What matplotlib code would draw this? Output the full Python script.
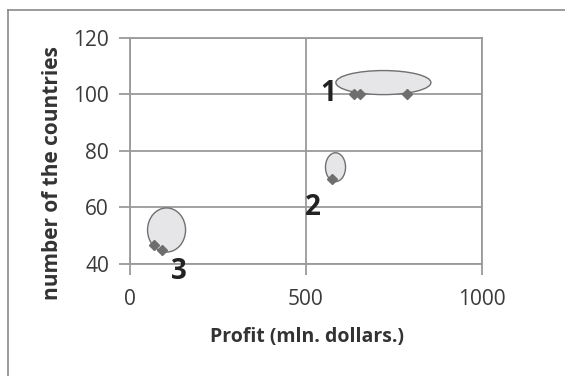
import matplotlib.pyplot as plt
from matplotlib.patches import Ellipse
from matplotlib.lines import Line2D

# profit (mln. dollars) and number of countries for each company
profit = [636, 653, 786, 573, 68, 90]
countries = [100, 100, 100, 70, 46.7, 44.8]

# cluster outlines: center x, center y, width, height
cluster_ids = ['1', '2', '3']
cl_x = [720, 584, 104]
cl_y = [104.1, 74.2, 52.0]
cl_w = [270, 57, 108]
cl_h = [8.5, 10.2, 15.6]
# label anchor points
lab_x = [563, 520, 139]
lab_y = [100.4, 60, 37.5]

plt.rcParams['font.family'] = ['Open Sans', 'DejaVu Sans']

fig = plt.figure(figsize=(5.65, 3.76), dpi=100)
ax = fig.add_axes([0.230, 0.298, 0.623, 0.602])

grid_c = '#9a9a9a'
ax.set_xlim(0, 1000)
ax.set_ylim(40, 120)
ax.set_xticks([0, 500, 1000])
ax.set_yticks([40, 60, 80, 100, 120])
ax.grid(True, color=grid_c, linewidth=1.3)
ax.set_axisbelow(True)
for s in ax.spines.values():
    s.set_color(grid_c)
    s.set_linewidth(1.3)
ax.tick_params(axis='both', colors=grid_c, width=1.3, length=8, labelcolor='#3a3a3a', labelsize=15)
ax.tick_params(axis='x', pad=10)
ax.tick_params(axis='y', pad=7)

for x, y, w, h in zip(cl_x, cl_y, cl_w, cl_h):
    ax.add_patch(Ellipse((x, y), w, h, facecolor='#e6e6e8', edgecolor='#707070', linewidth=1.0, zorder=2))

ax.plot(profit, countries, linestyle='none', marker='D', markersize=5.5,
        color='#6e6e6e', zorder=3, clip_on=False)

for t, x, y in zip(cluster_ids, lab_x, lab_y):
    ax.text(x, y, t, fontsize=20, fontweight='bold', color='#222222',
            ha='center', va='center', zorder=4, clip_on=False)

ax.set_xlabel('Profit (mln. dollars.)', fontsize=14, fontweight='bold', color='#333333')
ax.set_ylabel('number of the countries', fontsize=15, fontweight='bold', color='#333333')
ax.xaxis.set_label_coords(0.503, -0.323)
ax.xaxis.label.set_va('center')
ax.yaxis.set_label_coords(-0.219, 0.40)
ax.yaxis.label.set_va('center')

# outer frame (left and top edges)
fig.add_artist(Line2D([8 / 565, 8 / 565], [0, 1 - 10 / 376], color='#8a8a8a', linewidth=1.2))
fig.add_artist(Line2D([8 / 565, 1], [1 - 10 / 376, 1 - 10 / 376], color='#8a8a8a', linewidth=1.2))

fig.savefig('out.png', dpi=100)
